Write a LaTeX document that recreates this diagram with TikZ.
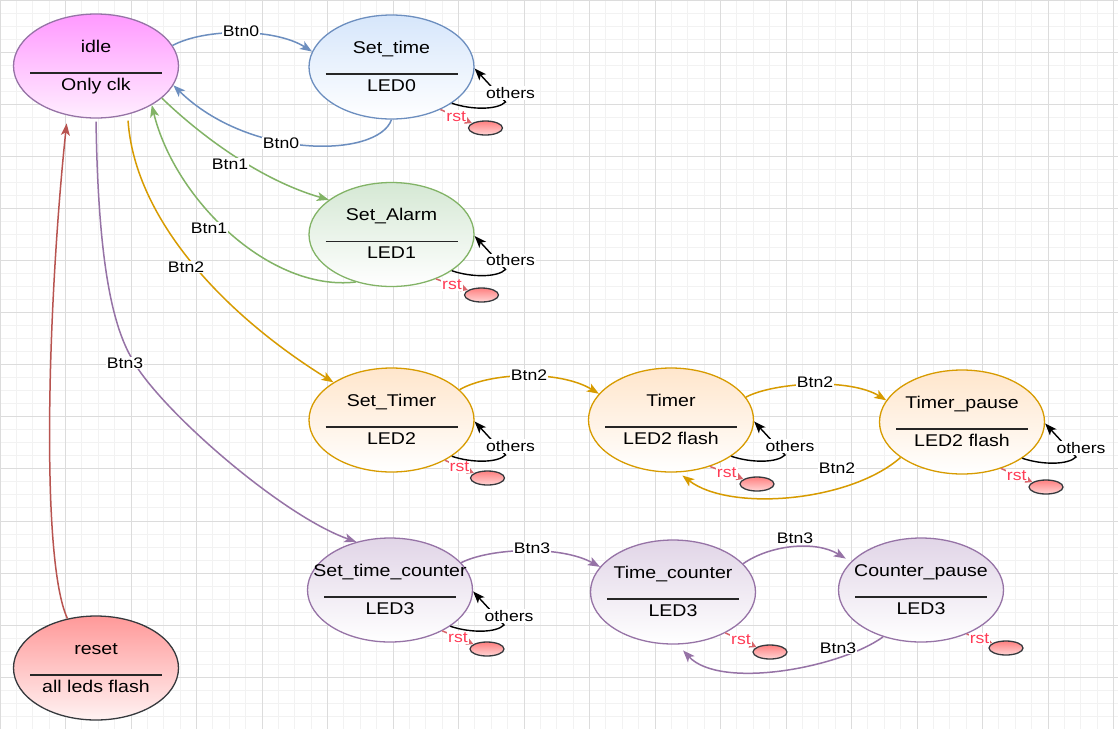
\documentclass[tikz,border=0pt]{standalone}
\usepackage{fontspec}
\setmainfont{Liberation Sans}[FakeStretch=1.15]
\usetikzlibrary{arrows.meta,shapes.geometric}
\definecolor{gmaj}{HTML}{DCDCDC}
\definecolor{gmin}{HTML}{F2F2F2}
\definecolor{cblue}{HTML}{6C8EBF}
\definecolor{fblue}{HTML}{D6E6FB}
\definecolor{cgreen}{HTML}{82B366}
\definecolor{fgreen}{HTML}{D5E8D4}
\definecolor{corange}{HTML}{D79B00}
\definecolor{forange}{HTML}{FFE6CC}
\definecolor{cpurple}{HTML}{9673A6}
\definecolor{fpurple}{HTML}{E1D5E7}
\definecolor{cred}{HTML}{B85450}
\definecolor{fidle}{HTML}{FF99FF}
\definecolor{fidleb}{HTML}{FFEEFF}
\definecolor{freset}{HTML}{FF9999}
\definecolor{fresetb}{HTML}{FFF2F2}
\definecolor{cdark}{HTML}{36393D}
\definecolor{rsttext}{HTML}{FF3B55}
\definecolor{rstline}{HTML}{D9646A}
\definecolor{fdot}{HTML}{FF8080}
\definecolor{fdotb}{HTML}{FFD6D6}
\newcommand{\mkstate}[6]{%
  \node[#4] (#1) at (#2,#3) {};
  \node[stext] (#1-t) at ([yshift=14pt]#1.center) {#5};
  \node[stext] (#1-s) at ([yshift=-24pt]#1.center) {#6};
  \draw[divider] ([xshift=-66pt,yshift=-7pt]#1.center) -- ([xshift=66pt,yshift=-7pt]#1.center);
}
\newcommand{\mkloop}[1]{%
  \draw[loopl] (#1.-31) .. controls ([shift={(80,43)}]#1.center) and ([shift={(106,43)}]#1.center) .. ([shift={(114,35)}]#1.center) -- (#1.-1);
  \node[lbl] (#1-o) at ([shift={(119,26)}]#1.center) {others};
}
\newcommand{\mkrst}[4]{%
  \node[rstdot] (#1-r) at ([shift={(#3,#4)}]#1.center) {};
  \draw[rstl] (#1.#2) -- node[rstlbl]{rst} (#1-r.160);
}
\begin{document}
\begin{tikzpicture}[x=1pt,y=-1pt,
  state/.style={ellipse, minimum width=165pt, minimum height=104pt, inner sep=0pt, line width=1.3pt},
  sidle/.style={state, draw=cpurple, top color=fidle, bottom color=fidleb},
  sblue/.style={state, draw=cblue, top color=fblue, bottom color=white},
  sgreen/.style={state, draw=cgreen, top color=fgreen, bottom color=white},
  sorange/.style={state, draw=corange, top color=forange, bottom color=white},
  spurple/.style={state, draw=cpurple, top color=fpurple, bottom color=white},
  sreset/.style={state, draw=cdark, top color=freset, bottom color=fresetb},
  stext/.style={anchor=base, inner sep=0pt, font=\fontsize{17}{20}\selectfont},
  divider/.style={line width=1.3pt, draw=black!85},
  lbl/.style={fill=white, inner sep=1pt, font=\fontsize{15.3}{18}\selectfont},
  rstlbl/.style={lbl, text=rsttext},
  edge/.style={line width=1.5pt, -{Stealth[length=12pt,width=9pt,inset=3pt]}},
  eblue/.style={edge, draw=cblue},
  egreen/.style={edge, draw=cgreen},
  eorange/.style={edge, draw=corange},
  epurple/.style={edge, draw=cpurple},
  ered/.style={edge, draw=cred},
  loopl/.style={edge, draw=black, line width=1.4pt},
  rstl/.style={line width=1.5pt, draw=rstline, -{Triangle[length=7pt,width=7pt]}},
  rstdot/.style={ellipse, minimum width=34pt, minimum height=14pt, inner sep=0pt, draw=cdark, line width=1.3pt, top color=fdot, bottom color=fdotb},
  gminor/.style={draw=gmin, line width=1pt},
  gmajor/.style={draw=gmaj, line width=1pt}
]
\useasboundingbox (0,0) rectangle (1118,729);
\fill[white] (0,0) rectangle (1118,729);
% grid
\foreach \i in {0,...,68} \draw[gminor] (\i*16.375,0) -- (\i*16.375,729);
\foreach \j in {0,...,55} \draw[gminor] (0,\j*13.025) -- (1118,\j*13.025);
\foreach \i in {0,...,17} \draw[gmajor] (\i*65.5,0) -- (\i*65.5,729);
\foreach \j in {0,...,13} \draw[gmajor] (0,\j*52.1) -- (1118,\j*52.1);
% states
\mkstate{idle}{96}{66}{sidle}{idle}{Only clk}
\mkstate{settime}{391.5}{67}{sblue}{Set\_time}{LED0}
\mkstate{setalarm}{391.5}{234.5}{sgreen}{Set\_Alarm}{LED1}
\mkstate{settimer}{391.5}{420}{sorange}{Set\_Timer}{LED2}
\mkstate{timer}{671}{420}{sorange}{Timer}{LED2 flash}
\mkstate{timerpause}{962}{422}{sorange}{Timer\_pause}{LED2 flash}
\mkstate{settc}{390}{590}{spurple}{Set\_time\_counter}{LED3}
\mkstate{timecounter}{673}{592}{spurple}{Time\_counter}{LED3}
\mkstate{counterpause}{921}{590}{spurple}{Counter\_pause}{LED3}
\mkstate{reset}{96}{668}{sreset}{reset}{all leds flash}
% transitions
\draw[eblue] (idle.15) .. controls (205,28) and (275,28) .. (settime.169);
\draw[eblue] (settime.-90) .. controls (378,158) and (250,160) .. (idle.-14);
\draw[egreen] (idle.-26) .. controls (200,135) and (260,180) .. (setalarm.151);
\draw[egreen] (setalarm.-127) .. controls (270,292) and (175,200) .. (idle.-35);
\draw[eorange, shorten <=6pt] (idle.-57) .. controls (135,220) and (225,315) .. (settimer.147);
\coordinate (b3) at (131,357);
\draw[epurple, shorten <=3pt] (idle.-90) .. controls (98,250) and (110,320) .. (b3) .. controls (155,405) and (280,515) .. (settc.125);
\draw[ered, shorten >=8pt] (reset.120) .. controls (40,560) and (48,300) .. (idle.-120);
\draw[eorange] (settimer.24) .. controls (490,372) and (560,370) .. (timer.160);
\draw[eorange] (timer.17) .. controls (775,382) and (850,378) .. (timerpause.164);
\draw[eorange, shorten >=5pt] (timerpause.-150) .. controls (850,502) and (730,512) .. (timer.-82);
\draw[epurple] (settc.21) .. controls (490,548) and (560,545) .. (timecounter.161);
\draw[epurple, shorten >=6pt] (timecounter.22) .. controls (770,545) and (815,540) .. (counterpause.158);
\draw[epurple, shorten >=8pt] (counterpause.-129) .. controls (840,668) and (720,690) .. (timecounter.-85);
% labels of transitions
\node[lbl] (l1) at (241,31) {Btn0};
\node[lbl] (l2) at (281,143) {Btn0};
\node[lbl] (l3) at (230,164) {Btn1};
\node[lbl] (l4) at (209,228) {Btn1};
\node[lbl] (l5) at (186,267) {Btn2};
\node[lbl] (l6) at (125,363) {Btn3};
\node[lbl] (l8) at (529,375) {Btn2};
\node[lbl] (l9) at (815,382) {Btn2};
\node[lbl] (l10) at (837,468) {Btn2};
\node[lbl] (l11) at (532,548) {Btn3};
\node[lbl] (l12) at (795,538) {Btn3};
\node[lbl] (l13) at (838,648) {Btn3};
% self loops
\mkloop{settime}
\mkloop{setalarm}
\mkloop{settimer}
\mkloop{timer}
\mkloop{timerpause}
\mkloop{settc}
% reset arrows
\mkrst{settime}{-41}{94}{61}
\mkrst{setalarm}{-45}{90}{60.5}
\mkrst{settimer}{-37}{96}{58}
\mkrst{timer}{-50}{86}{64}
\mkrst{timerpause}{-50}{84}{65}
\mkrst{settc}{-38}{97}{59}
\mkrst{timecounter}{-38}{97}{60}
\mkrst{counterpause}{-44}{85}{58}
\end{tikzpicture}
\end{document}
